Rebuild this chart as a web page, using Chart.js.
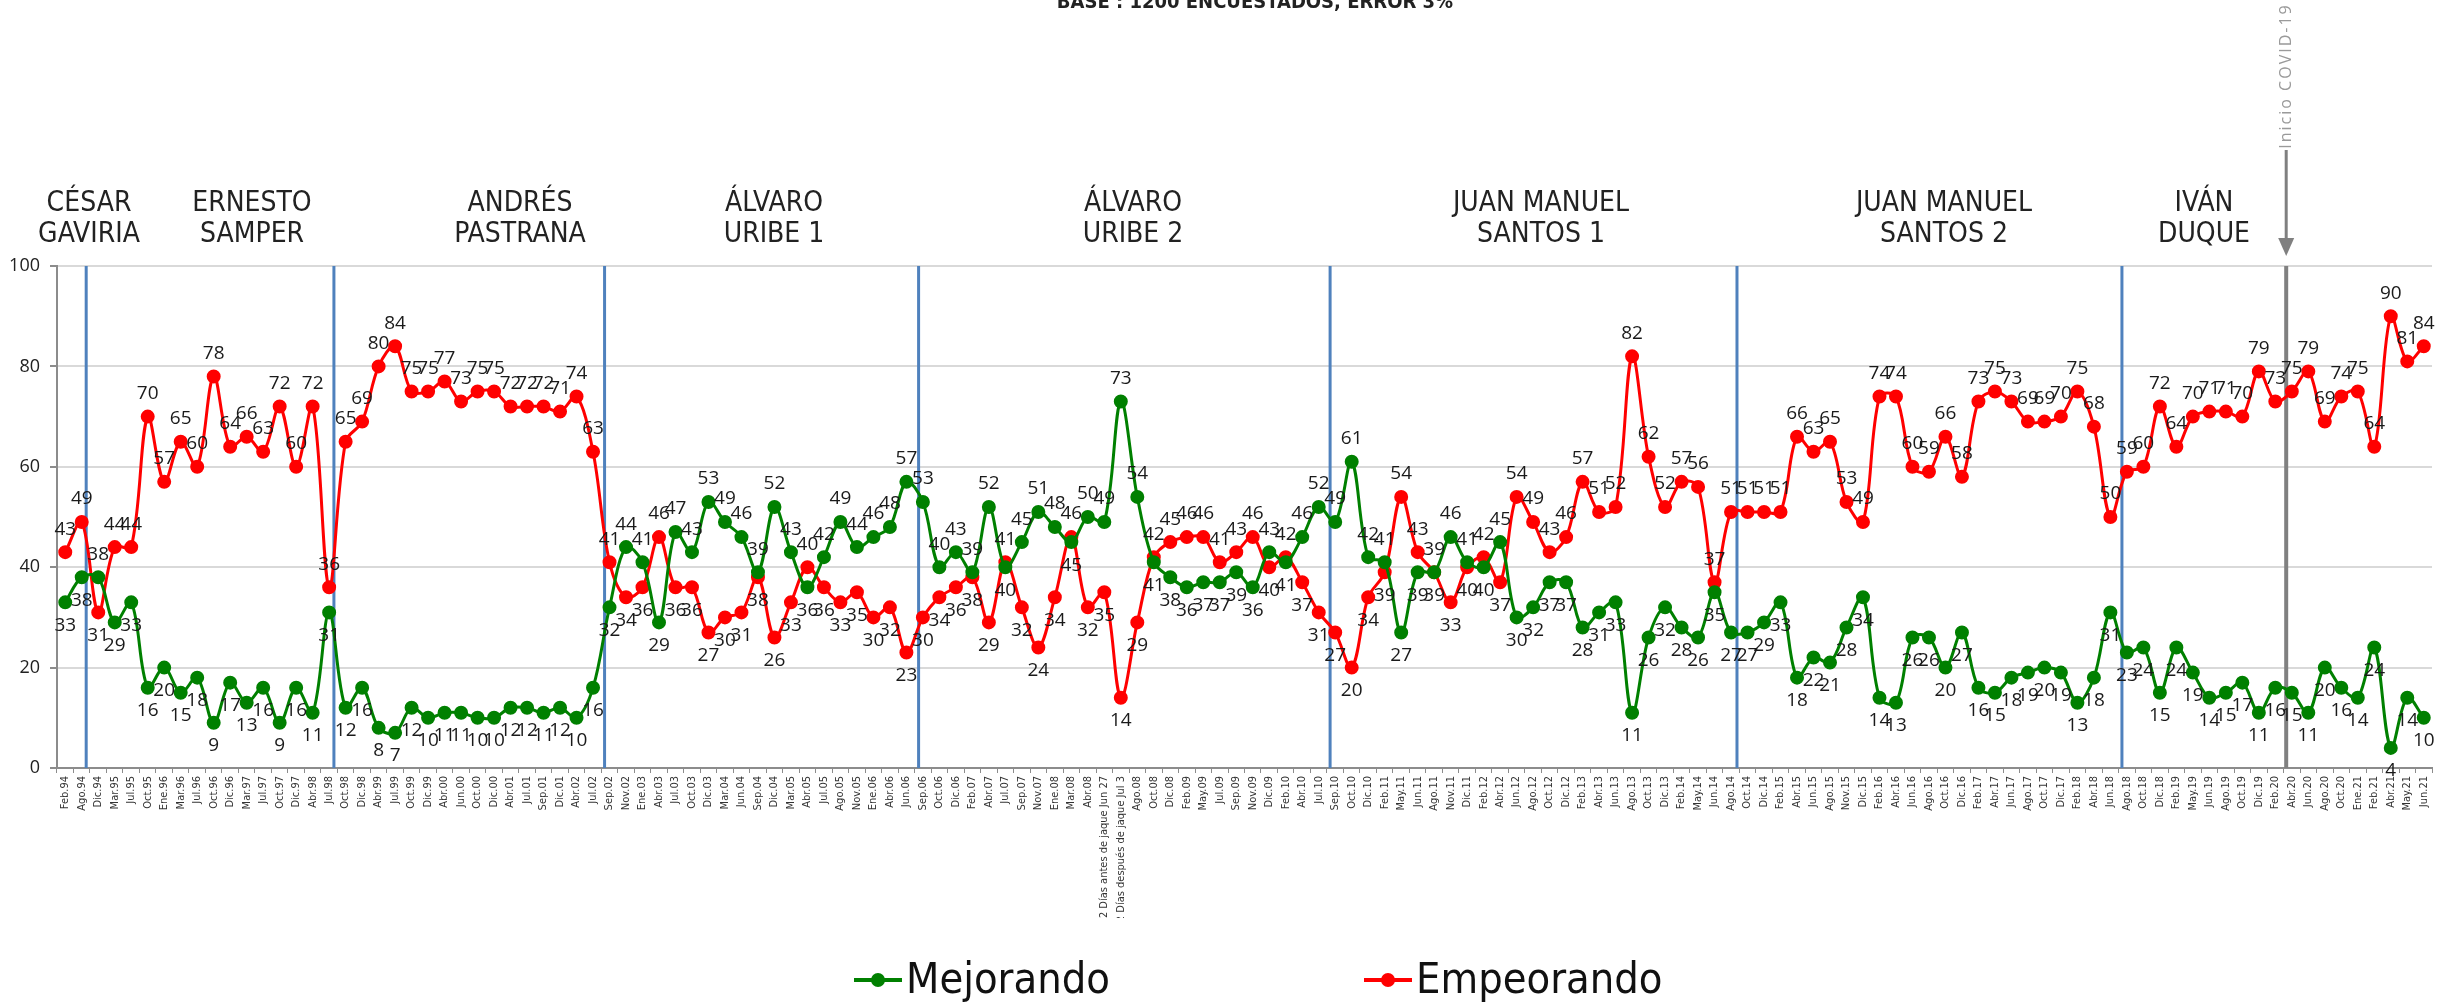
<!DOCTYPE html>
<html>
<head>
<meta charset="utf-8">
<script src="https://cdn.jsdelivr.net/npm/chart.js@4.4.0/dist/chart.umd.min.js"></script>
<style>
html,body{margin:0;padding:0;background:#fff}
#wrap{width:2458px;height:1005px}
</style>
</head>
<body>
<div id="wrap"><canvas id="opinionChart" width="2458" height="1005"></canvas></div>
<script>
const periodos = ['Feb.94','Ago.94','Dic.94','Mar.95','Jul.95','Oct.95','Ene.96','Mar.96','Jul.96','Oct.96','Dic.96','Mar.97','Jul.97','Oct.97','Dic.97','Abr.98','Jul.98',
'Oct.98','Dic.98','Abr.99','Jul.99','Oct.99','Dic.99','Abr.00','Jun.00','Oct.00','Dic.00','Abr.01','Jul.01','Sep.01','Dic.01','Abr.02','Jul.02',
'Sep.02','Nov.02','Ene.03','Abr.03','Jul.03','Oct.03','Dic.03','Mar.04','Jun.04','Sep.04','Dic.04','Mar.05','Abr.05','Jul.05','Ago.05','Nov.05','Ene.06','Abr.06','Jun.06',
'Sep.06','Oct.06','Dic.06','Feb.07','Abr.07','Jul.07','Sep.07','Nov.07','Ene.08','Mar.08','Abr.08','2 Días antes de jaque Jun 27','2 Días después de jaque Jul 3','Ago.08','Oct.08','Dic.08','Feb.09','May.09','Jul.09','Sep.09','Nov.09','Dic.09','Feb.10','Abr.10','Jul.10',
'Sep.10','Oct.10','Dic.10','Feb.11','May.11','Jun.11','Ago.11','Nov.11','Dic.11','Feb.12','Abr.12','Jun.12','Ago.12','Oct.12','Dic.12','Feb.13','Abr.13','Jun.13','Ago.13','Oct.13','Dic.13','Feb.14','May.14','Jun.14','Ago.14',
'Oct.14','Dic.14','Feb.15','Abr.15','Jun.15','Ago.15','Nov.15','Dic.15','Feb.16','Abr.16','Jun.16','Ago.16','Oct.16','Dic.16','Feb.17','Abr.17','Jun.17','Ago.17','Oct.17','Dic.17','Feb.18','Abr.18','Jun.18',
'Ago.18','Oct.18','Dic.18','Feb.19','May.19','Jun.19','Ago.19','Oct.19','Dic.19','Feb.20','Abr.20','Jun.20','Ago.20','Oct.20','Ene.21','Feb.21','Abr.21','May.21','Jun.21']

const mejorando = [33,38,38,29,33,16,20,15,18,9,17,13,16,9,16,11,31,
12,16,8,7,12,10,11,11,10,10,12,12,11,12,10,16,
32,44,41,29,47,43,53,49,46,39,52,43,36,42,49,44,46,48,57,
53,40,43,39,52,40,45,51,48,45,50,49,73,54,41,38,36,37,37,39,36,43,41,46,52,
49,61,42,41,27,39,39,46,41,40,45,30,32,37,37,28,31,33,11,26,32,28,26,35,27,
27,29,33,18,22,21,28,34,14,13,26,26,20,27,16,15,18,19,20,19,13,18,31,
23,24,15,24,19,14,15,17,11,16,15,11,20,16,14,24,4,14,10]

const empeorando = [43,49,31,44,44,70,57,65,60,78,64,66,63,72,60,72,36,
65,69,80,84,75,75,77,73,75,75,72,72,72,71,74,63,
41,34,36,46,36,36,27,30,31,38,26,33,40,36,33,35,30,32,23,
30,34,36,38,29,41,32,24,34,46,32,35,14,29,42,45,46,46,41,43,46,40,42,37,31,
27,20,34,39,54,43,39,33,40,42,37,54,49,43,46,57,51,52,82,62,52,57,56,37,51,
51,51,51,66,63,65,53,49,74,74,60,59,66,58,73,75,73,69,69,70,75,68,50,
59,60,72,64,70,71,71,70,79,73,75,79,69,74,75,64,90,81,84]

const yTicks = [0,20,40,60,80,100]

const gobiernos = [['CÉSAR','GAVIRIA'],['ERNESTO','SAMPER'],['ANDRÉS','PASTRANA'],['ÁLVARO','URIBE 1'],['ÁLVARO','URIBE 2'],['JUAN MANUEL','SANTOS 1'],['JUAN MANUEL','SANTOS 2'],['IVÁN','DUQUE']]

const narrow = "'Liberation Sans Narrow','DejaVu Sans Condensed',sans-serif"
const numFont = "'Open Sans',sans-serif"

// cambio de gobierno: indice del ultimo punto + fraccion del paso
const cortes = [1.27,16.29,32.7,51.74,76.69,101.36,124.7]
const covidAt = 134.66
const nombreX = [89,252,520,774,1133,1541,1944,2204]

const etiquetas = {
id:'etiquetas',
afterDatasetsDraw(chart){
const c = chart.ctx
const g = chart.getDatasetMeta(0).data
const r = chart.getDatasetMeta(1).data
c.save()
c.font = '19px ' + numFont
c.fillStyle = '#1a1a1a'
c.textAlign = 'center'
c.textBaseline = 'middle'
periodos.forEach((p,i)=>{
const arriba = empeorando[i] >= mejorando[i]
c.fillText(empeorando[i], r[i].x, r[i].y + (arriba ? -23 : 23))
c.fillText(mejorando[i], g[i].x, g[i].y + (arriba ? 23 : -23))
})
c.restore()
}
}

const decoracion = {
id:'decoracion',
beforeDatasetsDraw(chart){
const c = chart.ctx
const a = chart.chartArea
const x = chart.scales.x
const paso = x.getPixelForValue(1) - x.getPixelForValue(0)
c.save()
c.strokeStyle = '#4f81bd'
c.lineWidth = 3
cortes.forEach(v=>{
const px = x.getPixelForValue(0) + v*paso
c.beginPath()
c.moveTo(px,a.top)
c.lineTo(px,a.bottom)
c.stroke()
})
const cx = x.getPixelForValue(0) + covidAt*paso
c.strokeStyle = '#808080'
c.lineWidth = 4
c.beginPath()
c.moveTo(cx,a.top)
c.lineTo(cx,a.bottom)
c.stroke()
c.restore()
},
afterDraw(chart){
const c = chart.ctx
const x = chart.scales.x
const paso = x.getPixelForValue(1) - x.getPixelForValue(0)
c.save()
c.fillStyle = '#222'
c.textAlign = 'center'
c.textBaseline = 'middle'
c.font = 'bold 20px ' + narrow
c.fillText('BASE : 1200 ENCUESTADOS, ERROR 3%', 1255, 3)

c.font = '28px ' + narrow
gobiernos.forEach((n,i)=>{
c.fillText(n[0], nombreX[i], 204)
c.fillText(n[1], nombreX[i], 235)
})

// flecha covid
const cx = x.getPixelForValue(0) + covidAt*paso
c.strokeStyle = '#808080'
c.fillStyle = '#808080'
c.lineWidth = 3
c.beginPath()
c.moveTo(cx,150)
c.lineTo(cx,240)
c.stroke()
c.beginPath()
c.moveTo(cx-8,238)
c.lineTo(cx+8,238)
c.lineTo(cx,256)
c.closePath()
c.fill()
c.save()
c.translate(cx,76)
c.rotate(-Math.PI/2)
c.fillStyle = '#9a9a9a'
c.font = '16px ' + numFont
c.letterSpacing = '2px'
c.fillText('Inicio COVID-19',0,0)
c.restore()

// leyenda
const items = [[854,0],[1364,1]]
items.forEach(([lx,k])=>{
const ds = chart.data.datasets[k]
c.strokeStyle = ds.borderColor
c.fillStyle = ds.borderColor
c.lineWidth = 4
c.beginPath()
c.moveTo(lx,980)
c.lineTo(lx+48,980)
c.stroke()
c.beginPath()
c.arc(lx+24,980,7,0,Math.PI*2)
c.fill()
c.fillStyle = '#111'
c.textAlign = 'left'
c.font = '43px ' + narrow
c.fillText(ds.label, lx+52, 982)
})
c.restore()
}
}

new Chart(document.getElementById('opinionChart'),{
type:'line',
data:{
labels:periodos,
datasets:[{
label:'Mejorando',
data:mejorando,
borderColor:'#008000',
backgroundColor:'#008000',
borderWidth:3,
pointRadius:5.5,
pointHoverRadius:5.5,
tension:0.35
},
{
label:'Empeorando',
data:empeorando,
borderColor:'#ff0000',
backgroundColor:'#ff0000',
borderWidth:3,
pointRadius:5.5,
pointHoverRadius:5.5,
tension:0.35
}]
},
options:{
responsive:false,
animation:false,
devicePixelRatio:1,
layout:{
padding:{left:0,right:26,top:266,bottom:87}
},
plugins:{
legend:{display:false},
tooltip:{enabled:false}
},
scales:{
x:{
offset:true,
afterFit(s){ s.height = 150 },
grid:{
offset:true,
drawOnChartArea:false,
tickLength:5,
color:'#8c8c8c'
},
border:{color:'#8c8c8c',width:2},
ticks:{
autoSkip:false,
minRotation:90,
maxRotation:90,
padding:3,
color:'#333',
font:{family:narrow,size:11}
}
},
y:{
min:0,
max:100,
afterFit(s){ s.width = 57 },
afterBuildTicks(s){ s.ticks = yTicks.map(v=>({value:v})) },
grid:{
color:'#d9d9d9',
lineWidth:2,
tickLength:7,
tickColor:'#8c8c8c'
},
border:{color:'#8c8c8c',width:2},
ticks:{
padding:10,
color:'#222',
font:{family:numFont,size:18}
}
}
}
},
plugins:[decoracion,etiquetas]
})
</script>
</body>
</html>
